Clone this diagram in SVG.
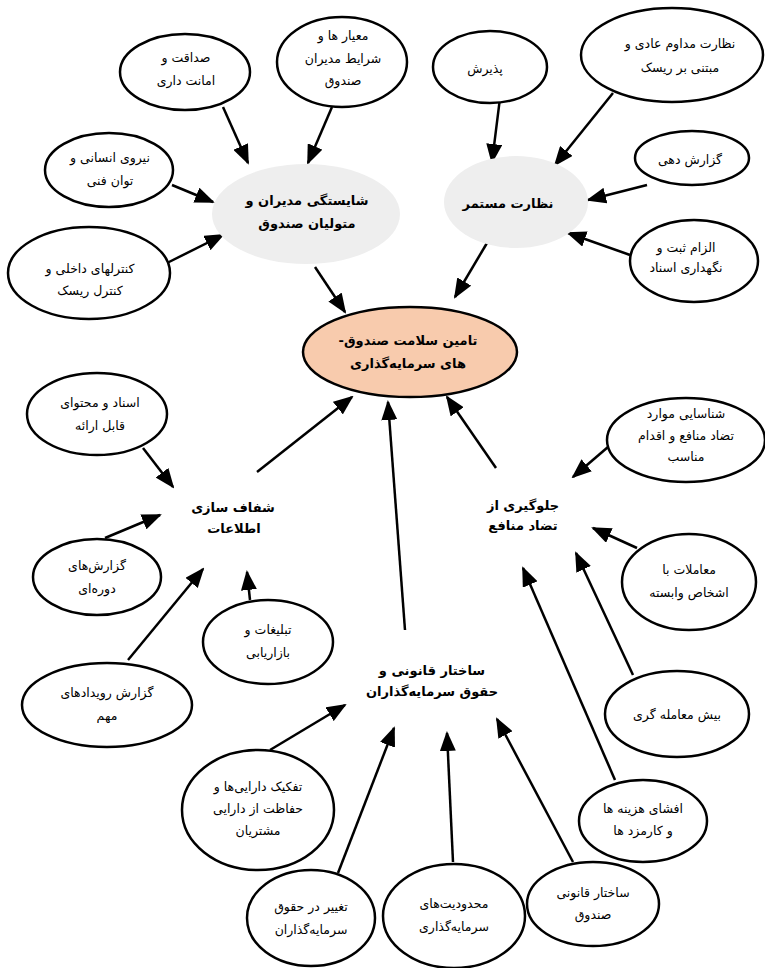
<svg xmlns="http://www.w3.org/2000/svg" width="765" height="968" viewBox="0 0 765 968">
<style>
.n{fill:#fff;stroke:#000;stroke-width:2.5}
.g{fill:#eeeeee;stroke:none}
.c{fill:#f8cbad;stroke:#000;stroke-width:2.5}
text{font-family:"DejaVu Sans",sans-serif;font-size:12.5px;fill:#000;text-anchor:middle;direction:rtl}
.b{font-weight:bold;font-size:13px}
#edges line{stroke:#000;stroke-width:2.5;marker-end:url(#ah)}
</style>
<defs>
<marker id="ah" viewBox="0 0 20 16" refX="18" refY="8" markerWidth="20" markerHeight="16" markerUnits="userSpaceOnUse" orient="auto">
<path d="M0,0 L20,8 L0,16 z" fill="#000"/>
</marker>
</defs>
<rect width="765" height="968" fill="#fff"/>
<g id="edges">
<line x1="223" y1="107" x2="248" y2="163"/>
<line x1="332" y1="107" x2="308" y2="163"/>
<line x1="172" y1="185" x2="213" y2="202"/>
<line x1="167" y1="263" x2="223" y2="235"/>
<line x1="315" y1="267" x2="345" y2="312"/>
<line x1="500" y1="98" x2="492" y2="162"/>
<line x1="613" y1="93" x2="555" y2="165"/>
<line x1="647" y1="185" x2="588" y2="200"/>
<line x1="630" y1="255" x2="568" y2="233"/>
<line x1="487" y1="243" x2="455" y2="297"/>
<line x1="143" y1="448" x2="173" y2="487"/>
<line x1="105" y1="538" x2="160" y2="515"/>
<line x1="128" y1="660" x2="203" y2="569"/>
<line x1="250" y1="600" x2="247" y2="572"/>
<line x1="257" y1="472" x2="352" y2="397"/>
<line x1="405" y1="630" x2="388" y2="402"/>
<line x1="496" y1="468" x2="447" y2="397"/>
<line x1="608" y1="447" x2="573" y2="477"/>
<line x1="637" y1="548" x2="593" y2="528"/>
<line x1="633" y1="675" x2="576" y2="553"/>
<line x1="615" y1="780" x2="523" y2="568"/>
<line x1="270" y1="750" x2="345" y2="705"/>
<line x1="338" y1="873" x2="394" y2="728"/>
<line x1="453" y1="862" x2="447" y2="733"/>
<line x1="573" y1="862" x2="497" y2="719"/>
</g>
<g id="n-sedaghat"><ellipse class="n" cx="185" cy="72" rx="65" ry="38"/><text x="186" y="62">صداقت و</text><text x="186" y="85">امانت داری</text></g>
<g id="n-meyar"><ellipse class="n" cx="342" cy="62" rx="65" ry="45"/><text x="343" y="40">معیار ها و</text><text x="343" y="63">شرایط مدیران</text><text x="343" y="85">صندوق</text></g>
<g id="n-niroo"><ellipse class="n" cx="109" cy="170" rx="64" ry="37"/><text x="110" y="162">نیروی انسانی و</text><text x="110" y="185">توان فنی</text></g>
<g id="n-kontrol"><ellipse class="n" cx="89" cy="273" rx="81" ry="46"/><text x="90" y="273">کنترلهای داخلی و</text><text x="90" y="295">کنترل ریسک</text></g>
<g id="n-shayestegi"><ellipse class="g" cx="306" cy="214" rx="94" ry="50"/><text class="b" x="307" y="205">شایستگی مدیران و</text><text class="b" x="307" y="228">متولیان صندوق</text></g>
<g id="n-paziresh"><ellipse class="n" cx="490" cy="67" rx="57" ry="36"/><text x="485" y="73">پذیرش</text></g>
<g id="n-nezarat-modavem"><ellipse class="n" cx="672" cy="55" rx="91" ry="47"/><text x="680" y="48">نظارت مداوم عادی و</text><text x="680" y="72">مبتنی بر ریسک</text></g>
<g id="n-gozaresh-dehi"><ellipse class="n" cx="692" cy="158" rx="57" ry="27"/><text x="690" y="164">گزارش دهی</text></g>
<g id="n-nezarat-mostamar"><ellipse class="g" cx="516" cy="202" rx="72" ry="46"/><text class="b" x="508" y="208">نظارت مستمر</text></g>
<g id="n-elzam"><ellipse class="n" cx="694" cy="261" rx="64" ry="41"/><text x="686" y="252">الزام ثبت و</text><text x="686" y="272">نگهداری اسناد</text></g>
<g id="n-center"><ellipse class="c" cx="410" cy="352" rx="107" ry="45"/><text class="b" x="408" y="345">تامین سلامت صندوق-</text><text class="b" x="408" y="368">های سرمایه‌گذاری</text></g>
<g id="n-asnad"><ellipse class="n" cx="97" cy="414" rx="70" ry="41"/><text x="100" y="407">اسناد و محتوای</text><text x="100" y="430">قابل ارائه</text></g>
<g id="n-shafaf"><text class="b" x="233" y="512">شفاف سازی</text><text class="b" x="234" y="533">اطلاعات</text></g>
<g id="n-doreei"><ellipse class="n" cx="97" cy="577" rx="64" ry="38"/><text x="97" y="570">گزارش‌های</text><text x="97" y="593">دوره‌ای</text></g>
<g id="n-tablighat"><ellipse class="n" cx="268" cy="642" rx="65" ry="42"/><text x="268" y="634">تبلیغات و</text><text x="268" y="657">بازاریابی</text></g>
<g id="n-roydad"><ellipse class="n" cx="107" cy="705" rx="85" ry="42"/><text x="107" y="697">گزارش رویدادهای</text><text x="107" y="720">مهم</text></g>
<g id="n-sakhtar"><text class="b" x="432" y="675">ساختار قانونی و</text><text class="b" x="432" y="696">حقوق سرمایه‌گذاران</text></g>
<g id="n-tafkik"><ellipse class="n" cx="258" cy="810" rx="76" ry="60"/><text x="258" y="791">تفکیک دارایی‌ها و</text><text x="258" y="813">حفاظت از دارایی</text><text x="258" y="835">مشتریان</text></g>
<g id="n-taghyir"><ellipse class="n" cx="311" cy="918" rx="64" ry="48"/><text x="311" y="911">تغییر در حقوق</text><text x="311" y="934">سرمایه‌گذاران</text></g>
<g id="n-mahdoodiat"><ellipse class="n" cx="454" cy="916" rx="71" ry="52"/><text x="454" y="908">محدودیت‌های</text><text x="454" y="931">سرمایه‌گذاری</text></g>
<g id="n-sakhtar-sandoogh"><ellipse class="n" cx="593" cy="904" rx="66" ry="42"/><text x="593" y="897">ساختار قانونی</text><text x="593" y="919">صندوق</text></g>
<g id="n-efsha"><ellipse class="n" cx="643" cy="821" rx="64" ry="41"/><text x="643" y="813">افشای هزینه ها</text><text x="643" y="835">و کارمزد ها</text></g>
<g id="n-bish"><ellipse class="n" cx="677" cy="714" rx="72" ry="43"/><text x="677" y="719">بیش معامله گری</text></g>
<g id="n-moamelat"><ellipse class="n" cx="689" cy="582" rx="67" ry="48"/><text x="689" y="574">معاملات با</text><text x="689" y="597">اشخاص وابسته</text></g>
<g id="n-shenasaei"><ellipse class="n" cx="686" cy="440" rx="79" ry="42"/><text x="686" y="418">شناسایی موارد</text><text x="686" y="440">تضاد منافع و اقدام</text><text x="686" y="461">مناسب</text></g>
<g id="n-jelogiri"><text class="b" x="523" y="510">جلوگیری از</text><text class="b" x="523" y="530">تضاد منافع</text></g>
</svg>
